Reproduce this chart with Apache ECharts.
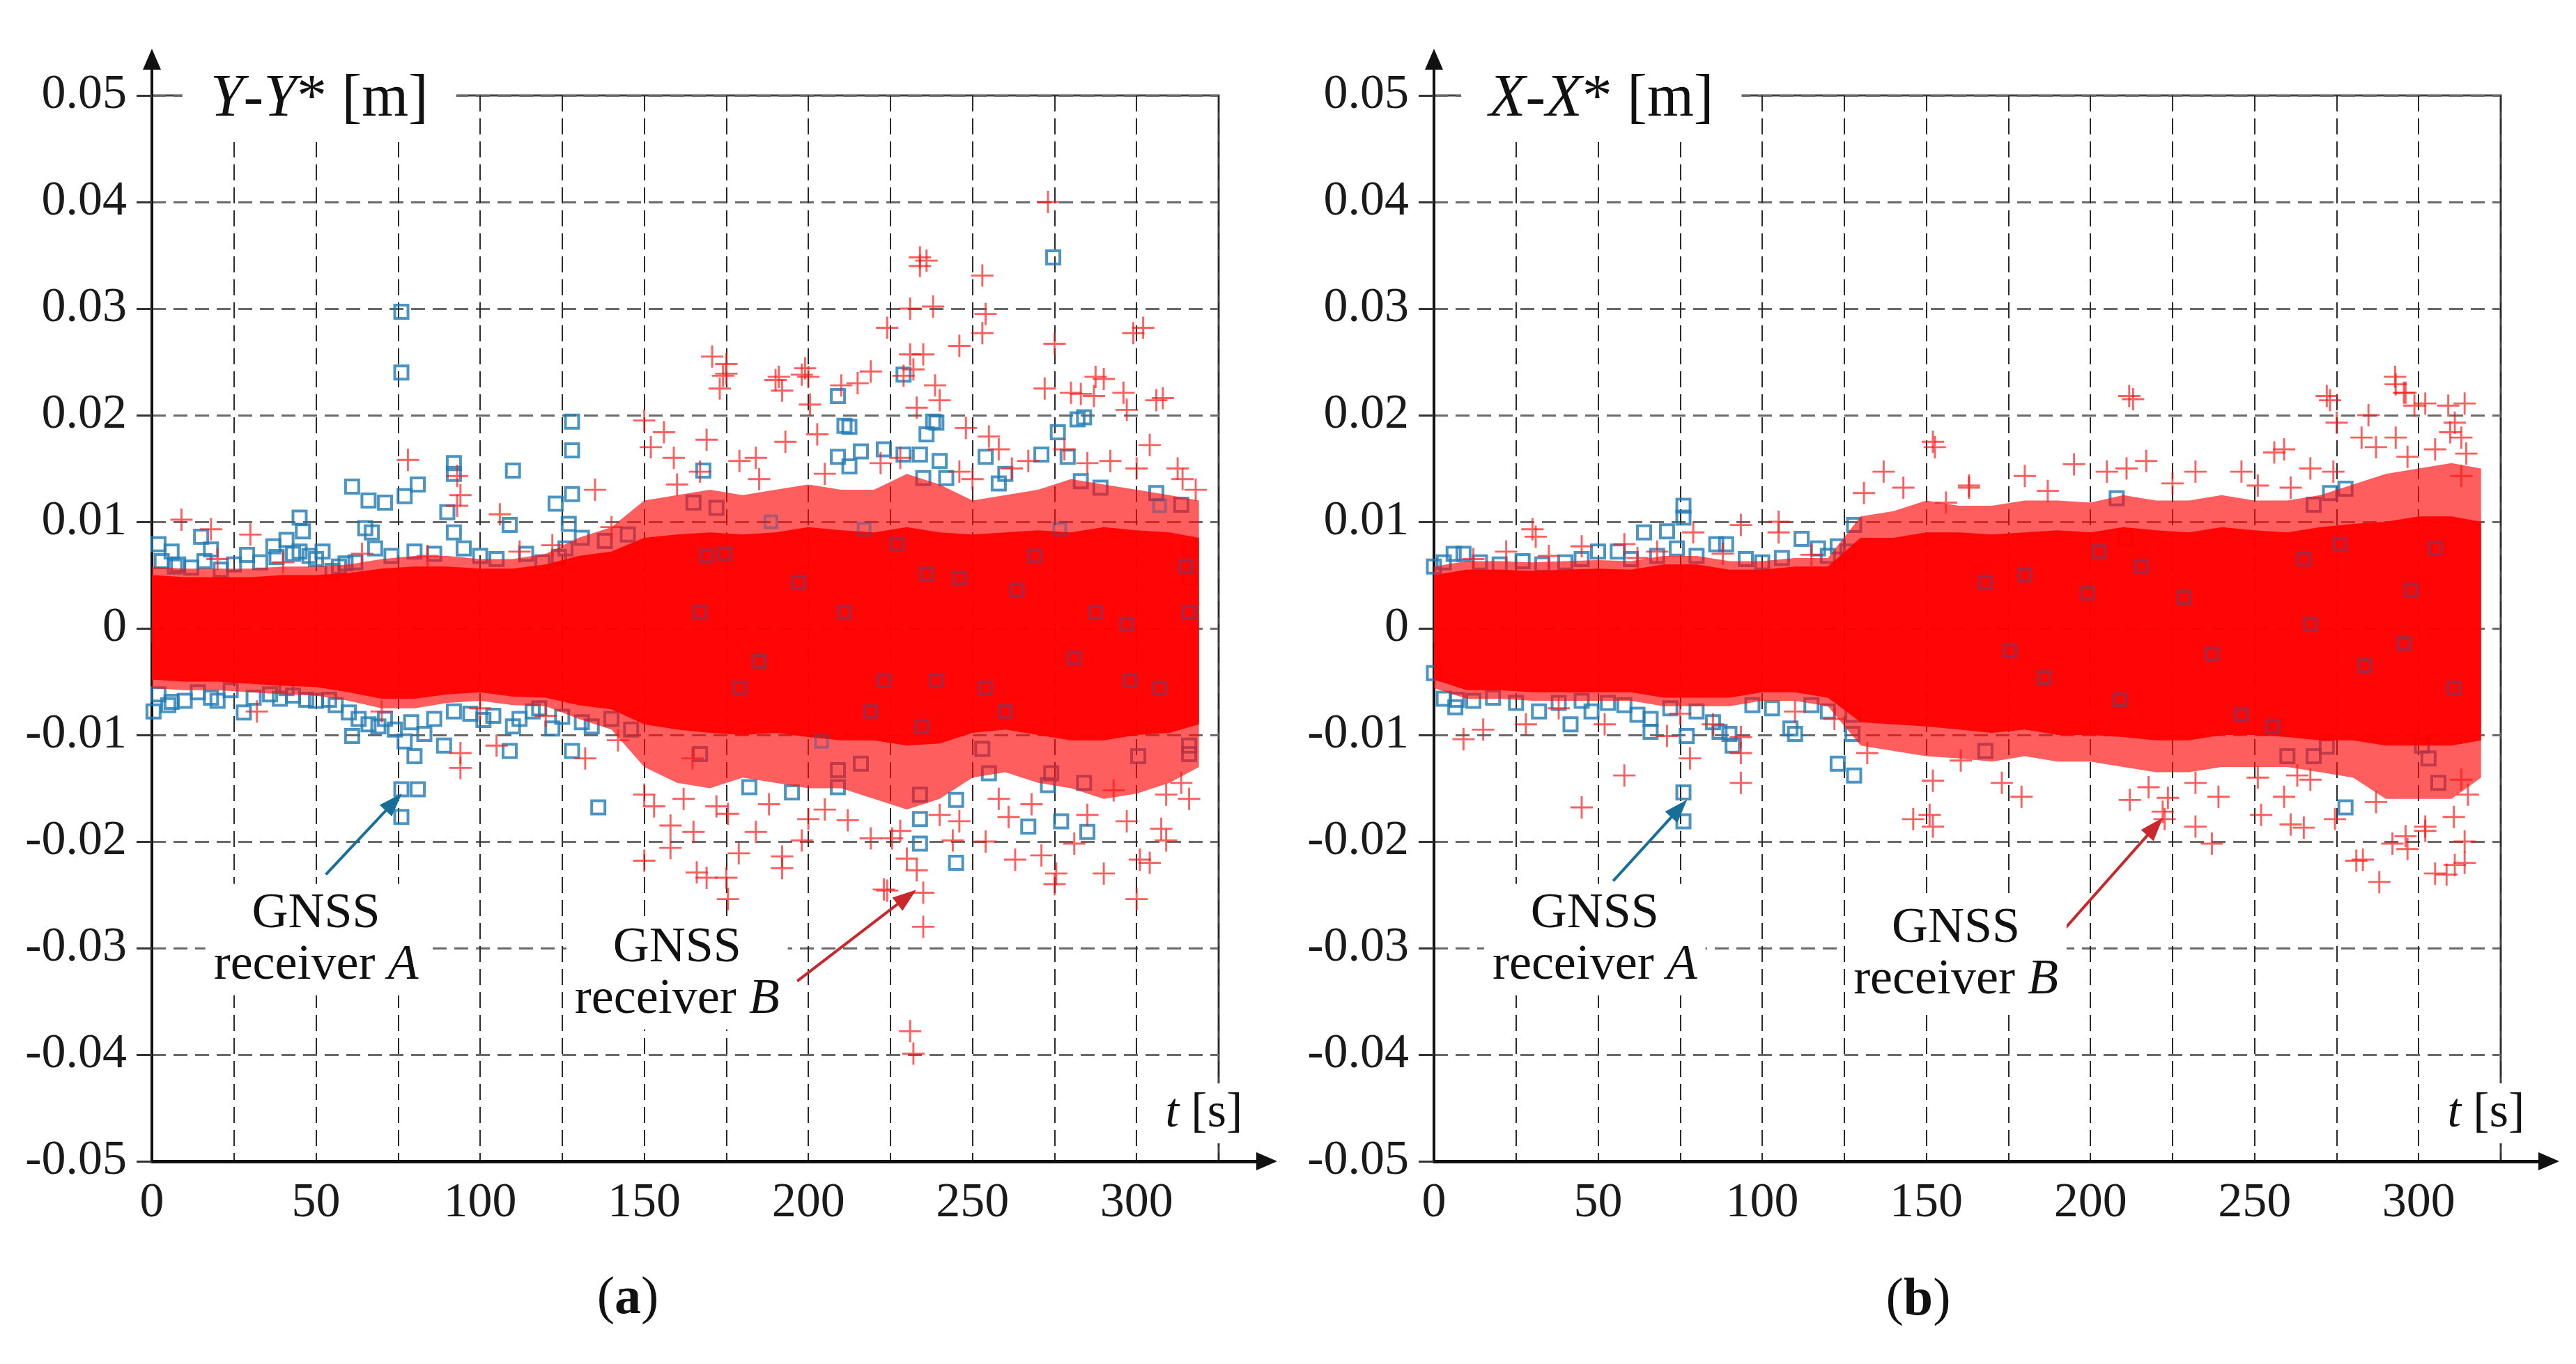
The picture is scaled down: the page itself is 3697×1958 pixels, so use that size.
<!DOCTYPE html>
<html>
<head>
<meta charset="utf-8">
<script src="https://cdn.jsdelivr.net/npm/echarts@6.0.0/dist/echarts.min.js"></script>
<style>html,body{margin:0;padding:0;background:#fff;}#c{width:3697px;height:1958px;}</style>
</head>
<body>
<div id="c"></div>
<script>
// ---------- DATA ----------
const T_GRID = [0,10,20,30,40,50,60,70,80,90,100,110,120,130,140,150,160,170,180,190,200,210,220,230,240,250,260,270,280,290,300,310,319];
const X_TICKS = [0,50,100,150,200,250,300];

// Panel (a): Y-Y*  dense red core envelope (receiver B)
const CORE_B_Y_UP = [.005,.0048,.0048,.0048,.005,.005,.0052,.0056,.0058,.0058,.0056,.0056,.006,.0068,.0072,.0085,.0088,.009,.0088,.009,.0095,.0092,.009,.0095,.009,.0088,.009,.0092,.009,.0095,.0092,.009,.0085];
const CORE_B_Y_LO = [-.0048,-.005,-.005,-.0052,-.0054,-.0055,-.006,-.0066,-.0066,-.0062,-.006,-.0064,-.0065,-.0072,-.0076,-.009,-.0095,-.0098,-.01,-.0098,-.0102,-.0105,-.0105,-.011,-.0108,-.0098,-.0095,-.01,-.0105,-.0105,-.01,-.0098,-.009];
const HALO_B_Y_UP = [.0058,.0056,.0056,.0056,.0058,.0058,.006,.0065,.0068,.0068,.0065,.0065,.007,.0085,.0095,.012,.0125,.013,.0125,.013,.0135,.013,.013,.0145,.0135,.012,.0125,.013,.014,.0135,.013,.0125,.012];
const HALO_B_Y_LO = [-.0056,-.0058,-.0058,-.006,-.0062,-.0063,-.0068,-.0075,-.0075,-.007,-.0068,-.0072,-.0073,-.0085,-.0095,-.013,-.0145,-.015,-.014,-.0145,-.015,-.015,-.016,-.017,-.016,-.014,-.0135,-.0145,-.015,-.016,-.0155,-.0145,-.013];

// Panel (b): X-X*  dense red core envelope (receiver B)
const CORE_B_X_UP = [.005,.0055,.0055,.0054,.0055,.0056,.0055,.006,.006,.0055,.0055,.0058,.0058,.0085,.0085,.009,.009,.0088,.009,.0092,.009,.0095,.0092,.009,.0095,.0092,.009,.0095,.0098,.01,.0105,.0105,.01];
const CORE_B_X_LO = [-.0048,-.0058,-.0058,-.006,-.006,-.006,-.006,-.0065,-.0065,-.0065,-.006,-.006,-.0065,-.0088,-.009,-.0092,-.0095,-.0098,-.0095,-.01,-.01,-.0102,-.0105,-.0105,-.01,-.01,-.0102,-.0105,-.0105,-.011,-.011,-.011,-.0105];
const HALO_B_X_UP = [.0058,.0063,.0063,.0062,.0063,.0064,.0063,.0068,.0068,.0063,.0063,.0066,.0066,.0105,.011,.012,.0115,.0115,.012,.012,.0118,.0125,.012,.012,.0125,.012,.012,.0125,.0135,.0145,.015,.0155,.015];
const HALO_B_X_LO = [-.0056,-.0066,-.0066,-.0068,-.0068,-.0068,-.0068,-.0073,-.0073,-.0073,-.0068,-.0068,-.0073,-.011,-.0115,-.012,-.0122,-.0125,-.012,-.0125,-.0125,-.013,-.0135,-.0135,-.013,-.013,-.013,-.0135,-.014,-.016,-.016,-.016,-.014];

// Receiver A (blue squares) visible points, panel (a)
const BLUE_A_Y = [
[76,0.0297],[76,0.024],[128,0.0194],[128,0.0167],[110,0.0148],[92,0.0155],[92,0.0145],[61,0.0133],[66,0.012],[71,0.0118],[77,0.0124],[81,0.0135],[128,0.0126],[123,0.0117],[45,0.0104],[46,0.0091],[65,0.0094],[67,0.009],[90,0.0109],[92,0.009],[109,0.0097],[127,0.0098],[2,0.0079],[6,0.0072],[15,0.0086],[18,0.0074],[29,0.0069],[37,0.0077],[41,0.0083],[45,0.0072],[52,0.0072],[55,0.0054],[59,0.0061],[124,0.0067],[7,0.0058],
[3,0.0063],[8,0.006],[12,0.0057],[16,0.0063],[21,0.0055],[25,0.006],[33,0.0062],[38,0.0067],[43,0.007],[48,0.0068],[50,0.0065],[57,0.0058],[62,0.0062],[68,0.0075],[73,0.0068],[80,0.0072],[86,0.007],[95,0.0075],[100,0.0068],[105,0.0065],[114,0.007],[119,0.0062],[126,0.0075],[131,0.0085],[138,0.0082],[145,0.0088],
[0.5,-0.0078],[6,-0.0069],[18,-0.0065],[28,-0.0079],[41,-0.0056],[47,-0.0067],[54,-0.0067],[60,-0.0079],[61,-0.0101],[66,-0.009],[71,-0.0085],[77,-0.0106],[80,-0.012],[83,-0.0099],[89,-0.011],[101,-0.0086],[109,-0.0115],[122,-0.0094],[128,-0.0115],[136,-0.0168],[76,-0.0151],[81,-0.0151],[76,-0.0177],[110,-0.0092],[116,-0.0078],[134,-0.0092],
[2,-0.0062],[5,-0.0072],[10,-0.0068],[14,-0.006],[20,-0.0068],[24,-0.0058],[31,-0.0065],[36,-0.0062],[39,-0.0066],[43,-0.0063],[50,-0.0068],[56,-0.0072],[63,-0.0085],[69,-0.0092],[74,-0.0095],[79,-0.0088],[86,-0.0085],[92,-0.0078],[97,-0.008],[104,-0.0082],[112,-0.0085],[118,-0.0075],[125,-0.0083],[131,-0.0088],[140,-0.0085],[146,-0.0095],
[209,0.0218],[212.5,0.0189],[209,0.0161],[212.5,0.0152],[216,0.0166],[223,0.0168],[229,0.0163],[234,0.0163],[240,0.0157],[239,0.0193],[236,0.0182],[235,0.0141],[242,0.0141],[254,0.0161],[258,0.0136],[260,0.0145],[271,0.0163],[276,0.0184],[284,0.0198],[279,0.0161],[283,0.0138],[289,0.0132],[306,0.0127],[313.6,0.0116],[168,0.0148],[172,0.0113],[165,0.0118],[316,0.0075],[316,0.0047],[274.6,0.0348],[282,0.0196],[238,0.0194],[211,0.019],[229,0.0238],
[167,-0.0118],[182,-0.0149],[195,-0.0154],[209,-0.0149],[209,-0.0133],[216,-0.0127],[234,-0.0156],[234,-0.0179],[234,-0.0202],[245,-0.0161],[245,-0.022],[253,-0.0113],[255,-0.0136],[267,-0.0186],[277,-0.0181],[285,-0.0191],[284,-0.0145],[273,-0.0147],[274,-0.0136],[300.5,-0.012],[316,-0.011],[316,-0.0118]
];
// Receiver A squares seen through the red cloud, panel (a)
const BLUE_A_Y_INNER = [
[174.5,0.007],[188.6,0.01],[197,0.0043],[185,-0.0031],[179,-0.0056],[204,-0.0106],[217,0.0093],[227,0.0079],[236,0.0051],[246,0.0047],[239,-0.0049],[234.6,-0.0092],[254,-0.0056],[263.6,0.0036],[269,0.0068],[276.6,0.0093],[281,-0.0028],[287.5,0.0015],[297,0.0004],[298,-0.0049],[307,-0.0056],[307,0.0115],[316,0.0015],[315,0.0058],[223,-0.0049],[211,0.0015],[167,0.0015],[169,0.0068],[219,-0.0078],[260,-0.0078]
];

// Receiver B (red crosses) outliers, panel (a)
const RED_B_Y = [
[9,0.0102],[18,0.0093],[30,0.0088],[78,0.0158],[93,0.0143],[94,0.0125],[93,0.0115],[106,0.0107],[135,0.013],[152,0.017],[156,0.0184],[150,0.0195],[159,0.016],
[170.7,0.0255],[175,0.0248],[175,0.0239],[173,0.0225],[191,0.0236],[199,0.0244],[200,0.0236],[192,0.0223],[200.5,0.021],[202.7,0.0182],[193,0.0175],[210,0.0228],[219,0.0241],[231,0.0257],[232,0.0243],[235,0.0257],[238.6,0.0228],[240,0.0214],[233,0.0207],[248,0.0188],[255,0.018],[258,0.0168],[246,0.0147],[272,0.0225],[280,0.0221],[287.5,0.0236],[287,0.0218],[296,0.0221],[308,0.0216],[297,0.0205],[304,0.0172],[314,0.014],[312.5,0.015],[169,0.0177],[167,0.0147],[179,0.0157],[184,0.016],[292,0.0157],[267,0.0157],[278,0.0168],
[273,0.040],[234,0.0348],[236,0.0345],[234,0.034],[253,0.0331],[231,0.030],[238,0.0302],[224,0.0282],[253,0.0277],[254,0.0295],[246,0.0265],[275,0.0267],[299,0.0277],[302,0.0282],[174,0.0237],[190,0.0233],[198,0.0238],[215,0.023],[229,0.0237],[290,0.0234],[283,0.022],[306,0.0214],
[160,0.0135],[185,0.014],[205,0.0145],[222,0.0155],[228,0.016],[250,0.014],[262,0.015],[285,0.0155],[300,0.015],[318,0.013],
[94,-0.0131],[94,-0.0117],[105,-0.011],[132,-0.0122],[150,-0.0156],[153,-0.0167],[158,-0.0206],[150,-0.0218],[165,-0.0191],[32,-0.0078],
[164.7,-0.0122],[172,-0.0167],[175.5,-0.0174],[169,-0.0234],[175,-0.0234],[175.5,-0.0254],[178.8,-0.0211],[184,-0.0191],[192,-0.0225],[198,-0.0199],[200,-0.0179],[205,-0.017],[219,-0.0197],[225.5,-0.0197],[230,-0.0216],[233,-0.0227],[235,-0.0248],[223,-0.0245],[235,-0.028],[244,-0.0199],[246,-0.0181],[254,-0.02],[261,-0.0177],[271,-0.0213],[275.5,-0.023],[281,-0.0202],[290,-0.023],[300,-0.0254],[304,-0.022],[309,-0.0199],[313.6,-0.0145],[309,-0.0156],[297,-0.0181],[293,-0.0152],
[231,-0.0378],[232,-0.0399],[224,-0.0246],[263,-0.0217],[275,-0.024],[301,-0.0217],[307.5,-0.0188],[192,-0.0214],[158,-0.0185],[166,-0.0229],
[162,-0.016],[188,-0.0165],[212,-0.018],[228,-0.019],[240,-0.0175],[258,-0.016],[268,-0.0165],[285,-0.0175],[316,-0.016],
[20,0.0065],[40,0.0062],[64,0.007],[84,0.0068],[112,0.0072],[122,0.0078],[140,0.0095],[70,-0.0078],[100,-0.0075],[120,-0.0082],[142,-0.0105]
];

// Receiver A (blue squares) visible points, panel (b)
const BLUE_A_X = [
[76,0.0115],[76,0.0104],[64,0.009],[71,0.0091],[74,0.0075],[86,0.0079],[89,0.0079],[112,0.0084],[117,0.0075],[123,0.0077],[128,0.0097],[6,0.007],[9,0.007],[0,0.0058],[56,0.0072],[50,0.0072],
[3,0.0062],[14,0.0062],[20,0.006],[27,0.0063],[33,0.006],[40,0.0062],[45,0.0065],[60,0.0065],[68,0.0068],[80,0.0068],[95,0.0065],[100,0.0062],[106,0.0066],[120,0.0068],[126,0.0072],
[0,-0.0042],[6.5,-0.0074],[7,-0.0067],[32,-0.0078],[41.6,-0.009],[48,-0.0078],[62,-0.0081],[66,-0.0085],[66,-0.0097],[77,-0.0101],[76,-0.0154],[76,-0.0181],[85,-0.0088],[87,-0.0097],[91,-0.011],[90,-0.0099],[110,-0.0099],[108.6,-0.0094],[123,-0.0127],[128,-0.0138],[127.5,-0.0081],[127.5,-0.0099],
[3,-0.0066],[12,-0.0068],[18,-0.0065],[25,-0.007],[38,-0.007],[45,-0.0068],[53,-0.007],[58,-0.0072],[72,-0.0075],[80,-0.0078],[97,-0.0072],[103,-0.0075],[115,-0.0072],[120,-0.0078],
[208,0.0122],[210.7,0.0084],[273,0.0127],[277.7,0.0131],[268,0.0116],[306,0.0075],[168,-0.0115],[209,-0.0069],[256.6,-0.0092],[260,-0.012],[268,-0.012],[272,-0.0111],[277.7,-0.0168],[306,-0.0145],[303,-0.0122],[301,-0.011]
];
// Receiver A squares seen through the red cloud, panel (b)
const BLUE_A_X_INNER = [
[180,0.005],[186,-0.0046],[199,0.0033],[209,-0.0067],[202.6,0.0072],[215.5,0.0058],[228.5,0.0029],[237,-0.0024],[246,-0.0081],[255.5,-0.0092],[267,0.0004],[276,0.0079],[283.6,-0.0035],[295.5,-0.0014],[305,0.0075],[297.7,0.0036],[310.7,-0.0056],[168,0.0043],[175.5,-0.0021],[265,0.0065]
];

// Receiver B (red crosses) outliers, panel (b)
const RED_B_X = [
[30,0.0093],[31,0.0086],[93.5,0.0097],[105,0.01],[105,0.009],[22,0.0072],[45,0.0077],[58,0.0079],[79,0.009],[12,0.0065],[68,0.0072],
[9,-0.0104],[45,-0.0168],[58,-0.0138],[93.5,-0.0145],[78,-0.0122],[93.5,-0.0117],[93.5,-0.0102],[71,-0.0101],[15,-0.0095],[28,-0.009],[52,-0.009],[85,-0.009],
[152,0.0175],[137,0.0147],[131,0.0127],[143,0.0132],[163,0.0132],[156,0.0118],[211.8,0.0218],[292.8,0.0236],[272,0.0218],[302,0.0211],[314,0.0211],[295.5,0.0221],[284.7,0.02],[275,0.0193],[282.6,0.0179],[293,0.0179],[311,0.0193],[313,0.0179],[309.6,0.0184],[259,0.0168],[287,0.017],[305,0.0168],[296.6,0.0161],[314.5,0.0164],[195,0.0154],[180,0.0143],[205,0.0147],[211,0.015],[217,0.0157],[232,0.0147],[246,0.0147],[267,0.015],[274,0.0147],[225,0.0136],[251,0.0134],[261,0.0132],[163,0.0134],[187,0.0129],[313,0.0143],[293,0.0229],[296,0.0221],[273,0.0214],[298.7,0.0209],[309,0.0209],[213,0.0215],[256,0.0165],[152.6,0.017],
[146,-0.0179],[152,-0.0186],[152,-0.0143],[151,-0.0175],[132,-0.0117],[160.5,-0.0124],[288,-0.0238],[281,-0.0218],[308.5,-0.0231],[314,-0.022],[296.6,-0.0207],[292,-0.0202],[314,-0.02],[237,-0.0202],[232,-0.0186],[261,-0.0184],[252,-0.0175],[274.5,-0.0179],[212,-0.0161],[222,-0.0172],[222.6,-0.0179],[223.6,-0.0159],[217.7,-0.0149],[239,-0.0158],[259,-0.0158],[267,-0.0142],[232,-0.0145],[179,-0.0158],[173,-0.0145],[287,-0.0163],[302,-0.019],[310.7,-0.0177],[315,-0.0156],[313,-0.0142],[263,-0.0138],[251,-0.014],[283,-0.0217],[305,-0.023],[311,-0.0222],[296,-0.0195],[302,-0.0186],[265,-0.0187],
[35,0.0068],[62,0.0066],[88,0.007],[115,0.0069],[38,-0.0075],[75,-0.008],[110,-0.0078],[122,-0.0085]
];

// Annotation anchors (data coordinates)
const ARROW_A_Y = [[53,-0.0231],[73.7,-0.0163]];
const ARROW_B_Y = [[196.6,-0.0331],[230,-0.0252]];
const ARROW_A_X = [[54.6,-0.0237],[74.7,-0.0169]];
const ARROW_B_X = [[190.4,-0.0288],[219.7,-0.0186]];
const LABEL_A_Y = [50,-0.0292], LABEL_B_Y = [160,-0.0324];
const LABEL_A_X = [49,-0.0292], LABEL_B_X = [159,-0.0306];

// ---------- CHART ----------
const FONT = 'Liberation Serif';
const BLUE = '#1f7ab3';
const PLUS = 'path://M-1,-0.09L-0.09,-0.09L-0.09,-1L0.09,-1L0.09,-0.09L1,-0.09L1,0.09L0.09,0.09L0.09,1L-0.09,1L-0.09,0.09L-1,0.09Z';
const zip = (xs, ys) => xs.map((x, i) => [x, ys[i]]);

const grids = [
  {left:218, top:137, width:1531, height:1530, show:true, borderColor:'#444', borderWidth:3},
  {left:2058, top:137, width:1531, height:1530, show:true, borderColor:'#444', borderWidth:3},
  {left:218, top:137, width:1600, height:1530},
  {left:218, top:85, width:1531, height:1582},
  {left:2058, top:137, width:1600, height:1530},
  {left:2058, top:85, width:1531, height:1582}
];

function mainX(g){
  return {gridIndex:g, type:'value', min:0, max:325, interval:25,
    axisLine:{show:false},
    axisTick:{show:true, length:20, lineStyle:{color:'#333', width:2}},
    axisLabel:{margin:26, fontFamily:FONT, fontSize:70, color:'#1a1a1a',
      formatter: v => X_TICKS.indexOf(v) >= 0 ? String(v) : ''},
    splitLine:{show:true, lineStyle:{color:'#2a2a2a', width:2, type:[23,10]}}};
}
function mainY(g){
  return {gridIndex:g, type:'value', min:-0.05, max:0.05, interval:0.01,
    axisLine:{show:false},
    axisTick:{show:true, length:22, lineStyle:{color:'#333', width:3}},
    axisLabel:{margin:36, fontFamily:FONT, fontSize:70, color:'#1a1a1a',
      formatter: v => String(Math.round(v*100)/100)},
    splitLine:{show:true, lineStyle:{color:'#6a6a6a', width:3, type:[20,11]}}};
}
function arrowAxis(g, isX, show){
  return {gridIndex:g, type:'value', min:0, max:1, show:show,
    axisLine:{show:true, onZero:false, symbol:['none','triangle'], symbolSize:[26,30],
      lineStyle:{color:'#111', width: isX ? 5 : 4}},
    axisTick:{show:false}, axisLabel:{show:false}, splitLine:{show:false}};
}

const xAxes = [mainX(0), mainX(1),
  arrowAxis(2,true,true), arrowAxis(3,true,false), arrowAxis(4,true,true), arrowAxis(5,true,false)];
const yAxes = [mainY(0), mainY(1),
  arrowAxis(2,false,false), arrowAxis(3,false,true), arrowAxis(4,false,false), arrowAxis(5,false,true)];

function band(g, ys, color, z){
  return {type:'line', xAxisIndex:g, yAxisIndex:g, data:zip(T_GRID, ys), symbol:'none', silent:true,
    lineStyle:{width:0}, areaStyle:{color:color, origin:0, opacity:1}, z:z, animation:false};
}
const txt = {color:'#111', fontFamily:FONT};
function gnssLabel(coord, letter){
  return {coord:coord, symbol:'rect', symbolSize:1, itemStyle:{color:'rgba(0,0,0,0)'},
    label:{show:true, position:'inside', align:'center', verticalAlign:'middle',
      backgroundColor:'#fff', padding:[6,12],
      formatter:'{n|GNSS}\n{n|receiver }{i|' + letter + '}',
      rich:{n:Object.assign({fontSize:72, lineHeight:74, align:'center'}, txt),
            i:Object.assign({fontSize:72, lineHeight:74, fontStyle:'italic'}, txt)}}};
}
function axisTitle(coord, letter){
  return {coord:coord, symbol:'rect', symbolSize:1, itemStyle:{color:'rgba(0,0,0,0)'},
    label:{show:true, position:'inside', backgroundColor:'#fff', padding:[16,40,16,40],
      formatter:'{i|' + letter + '}{n|-}{i|' + letter + '}{n|* [m]}',
      rich:{n:Object.assign({fontSize:86, lineHeight:90}, txt),
            i:Object.assign({fontSize:86, lineHeight:90, fontStyle:'italic'}, txt)}}};
}
function tTitle(coord){
  return {coord:coord, symbol:'rect', symbolSize:1, itemStyle:{color:'rgba(0,0,0,0)'},
    label:{show:true, position:'inside', backgroundColor:'#fff', padding:[6,10],
      formatter:'{i|t}{n| [s]}',
      rich:{n:Object.assign({fontSize:70, lineHeight:74}, txt),
            i:Object.assign({fontSize:70, lineHeight:74, fontStyle:'italic'}, txt)}}};
}
function arrowLine(pts, color){
  return [{coord:pts[0], symbol:'none', lineStyle:{color:color, width:4, type:'solid'}, itemStyle:{color:color}},
          {coord:pts[1], symbol:'triangle', symbolSize:[24,34], itemStyle:{color:color}}];
}

function panelSeries(g, blue, blueInner, red, cUp, cLo, hUp, hLo, arrA, arrB, labA, labB, letter){
  return [
    {type:'scatter', xAxisIndex:g, yAxisIndex:g, data:blue, symbol:'rect', symbolSize:19,
      itemStyle:{color:'rgba(255,255,255,0)', borderColor:BLUE, borderWidth:4}, z:2, animation:false,
      markLine:{silent:true, animation:false, symbol:['none','triangle'], label:{show:false},
        data:[arrowLine(arrA, '#176e96')]}},
    band(g, hUp, 'rgba(255,10,10,0.66)', 3),
    band(g, hLo, 'rgba(255,10,10,0.66)', 3),
    band(g, cUp, 'rgba(255,0,0,0.95)', 4),
    band(g, cLo, 'rgba(255,0,0,0.95)', 4),
    {type:'scatter', xAxisIndex:g, yAxisIndex:g, data:blueInner, symbol:'rect', symbolSize:17,
      itemStyle:{color:'rgba(255,255,255,0)', borderColor:'rgba(60,85,150,0.55)', borderWidth:4}, z:5, animation:false, silent:true},
    {type:'scatter', xAxisIndex:g, yAxisIndex:g, data:red, symbol:PLUS, symbolSize:32,
      itemStyle:{color:'rgba(255,20,20,0.85)'}, z:6, animation:false,
      markLine:{silent:true, animation:false, symbol:['none','triangle'], label:{show:false},
        data:[arrowLine(arrB, '#c8282c')]},
      markPoint:{silent:true, animation:false,
        data:[gnssLabel(labA,'A'), gnssLabel(labB,'B'), axisTitle([51,0.0496], letter), tTitle([320.5,-0.0455])]}}
  ];
}

const series = [].concat(
  panelSeries(0, BLUE_A_Y, BLUE_A_Y_INNER, RED_B_Y, CORE_B_Y_UP, CORE_B_Y_LO, HALO_B_Y_UP, HALO_B_Y_LO, ARROW_A_Y, ARROW_B_Y, LABEL_A_Y, LABEL_B_Y, 'Y'),
  panelSeries(1, BLUE_A_X, BLUE_A_X_INNER, RED_B_X, CORE_B_X_UP, CORE_B_X_LO, HALO_B_X_UP, HALO_B_X_LO, ARROW_A_X, ARROW_B_X, LABEL_A_X, LABEL_B_X, 'X')
);

const chart = echarts.init(document.getElementById('c'), null, {renderer:'canvas'});
chart.setOption({
  backgroundColor:'#fff',
  animation:false,
  grid:grids, xAxis:xAxes, yAxis:yAxes, series:series,
  graphic:[
    {type:'text', x:901, y:1865, style:{text:'{p|(}{b|a}{p|)}', align:'center', verticalAlign:'middle',
      rich:{p:{fontFamily:FONT, fontSize:76, fill:'#111'}, b:{fontFamily:FONT, fontSize:76, fontWeight:'bold', fill:'#111'}}}},
    {type:'text', x:2753, y:1867, style:{text:'{p|(}{b|b}{p|)}', align:'center', verticalAlign:'middle',
      rich:{p:{fontFamily:FONT, fontSize:76, fill:'#111'}, b:{fontFamily:FONT, fontSize:76, fontWeight:'bold', fill:'#111'}}}}
  ]
});
</script>
</body>
</html>
